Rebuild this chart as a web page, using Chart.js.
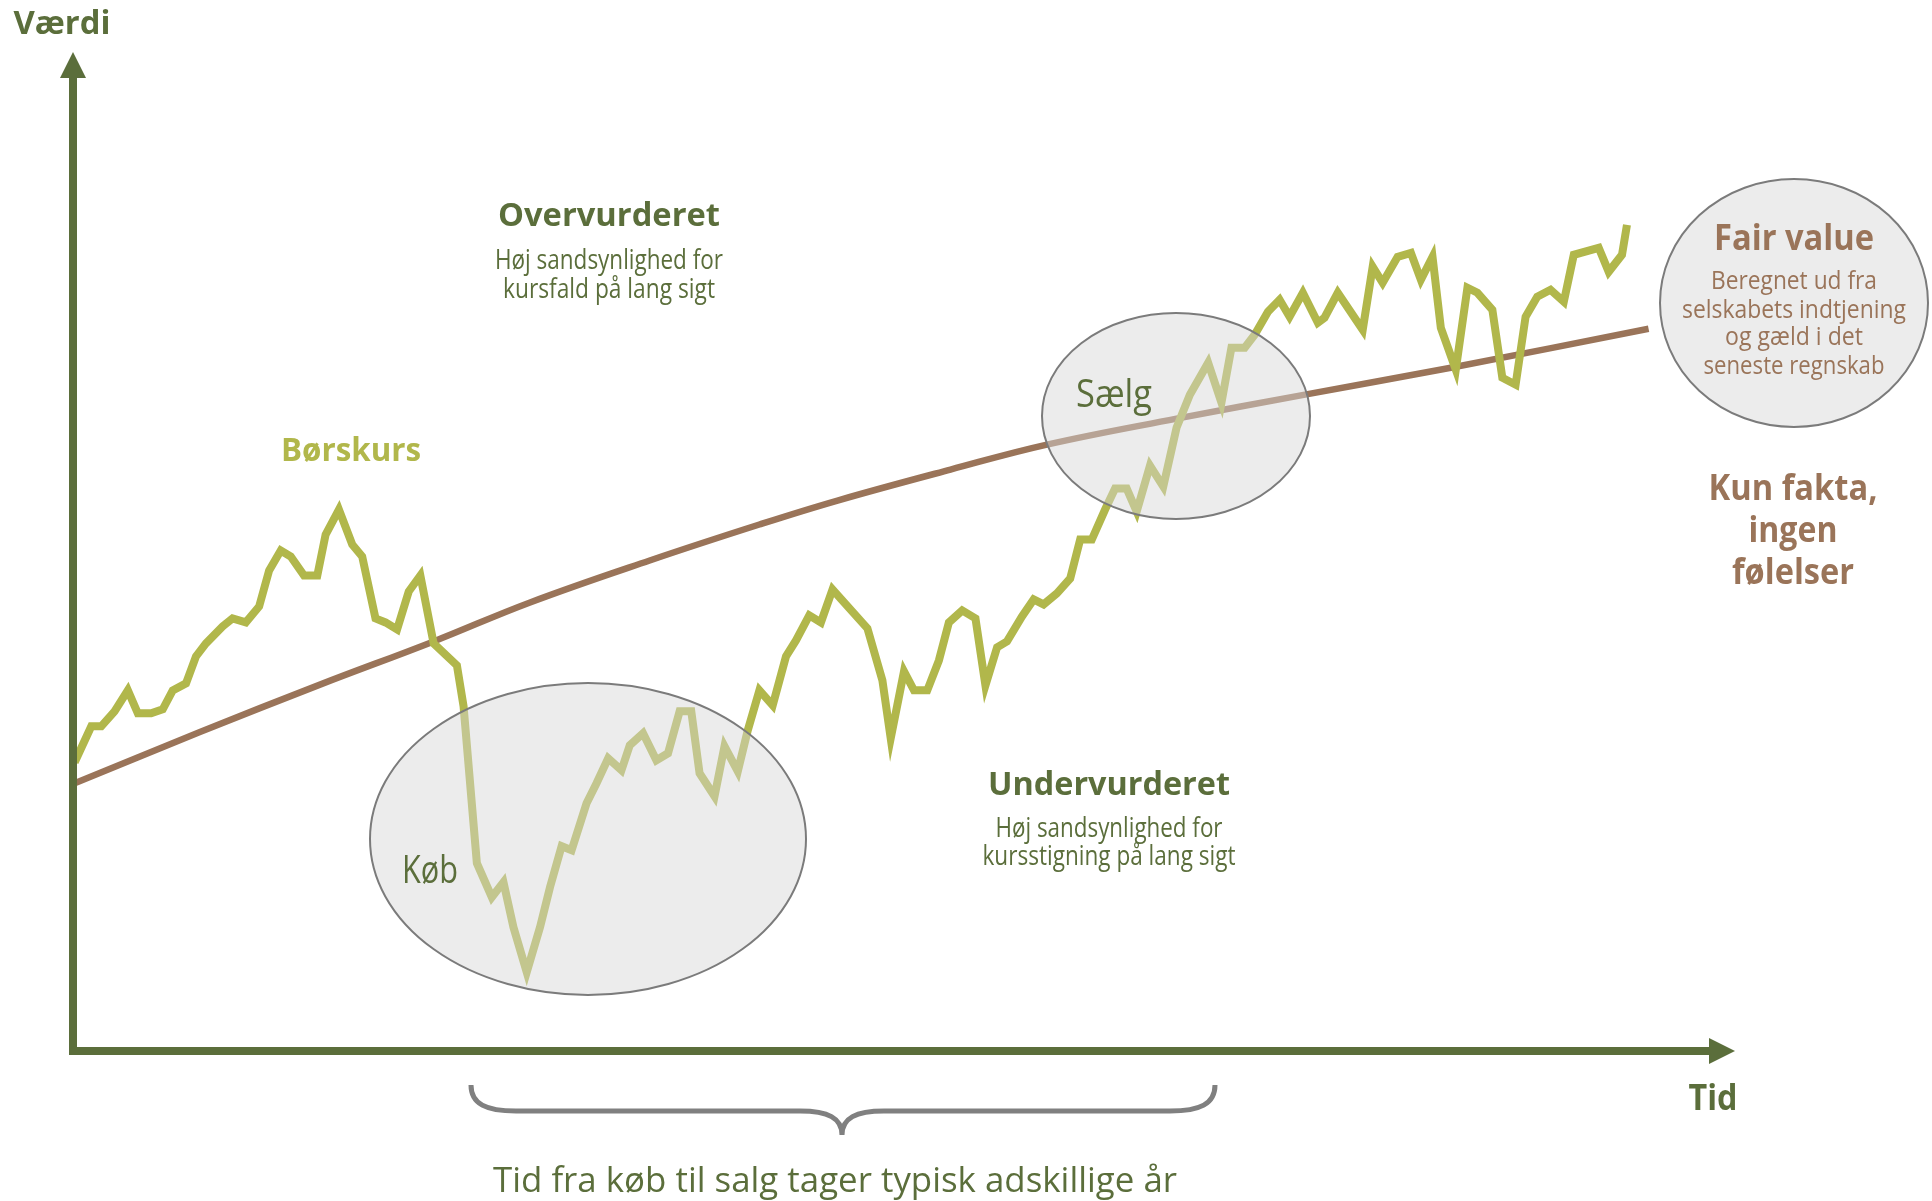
<!DOCTYPE html>
<html>
<head>
<meta charset="utf-8">
<script src="https://cdn.jsdelivr.net/npm/chart.js@4/dist/chart.umd.min.js"></script>
<style>
  html, body { margin: 0; padding: 0; background: #fff; }
  #wrap { width: 1932px; height: 1201px; }
</style>
</head>
<body>
<div id="wrap"><canvas id="myCanvas" width="1932" height="1201"></canvas></div>
<script>
// Børskurs (stock price), time 0-100, value 0-100
let kursTid = [0.1, 1.1, 1.7, 2.5, 3.3, 3.9, 4.7, 5.4, 6.0, 6.8, 7.4, 8.0, 9.0, 9.6, 10.4, 11.2, 11.8, 12.5, 13.1, 13.9,
  14.7, 15.2, 16.0, 16.8, 17.4, 18.2, 18.8, 19.5, 20.2, 20.9, 21.7, 23.1, 23.5, 24.3, 25.2, 25.9, 26.5, 27.3, 28.1, 28.7,
  29.4, 30.0, 30.9, 31.5, 32.2, 33.0, 33.5, 34.3, 35.1, 35.8, 36.5, 37.2, 37.7, 38.6, 39.2, 40.0, 40.6, 41.3, 42.1, 42.9,
  43.5, 44.3, 45.0, 45.7, 47.8, 48.7, 49.2, 50.0, 50.6, 51.4, 52.1, 52.7, 53.5, 54.3, 54.9, 55.6, 56.2, 57.1, 57.8, 58.4,
  59.2, 60.0, 60.6, 61.3, 62.1, 62.7, 63.4, 64.0, 64.8, 65.6, 66.4, 67.2, 68.3, 69.1, 69.7, 70.5, 71.1, 71.9, 72.6, 73.2,
  74.0, 74.9, 75.3, 76.1, 77.6, 78.2, 78.8, 79.7, 80.5, 81.1, 81.8, 82.3, 83.2, 83.9, 84.5, 85.4, 86.0, 86.8, 87.4, 88.1,
  88.9, 89.7, 90.3, 91.8, 92.4, 93.2, 93.5]
let kurs = [28.9, 32.5, 32.5, 34.0, 36.1, 33.8, 33.8, 34.2, 36.1, 36.8, 39.5, 40.8, 42.5, 43.3, 42.9, 44.5, 48.1, 50.1, 49.5, 47.6,
  47.6, 51.7, 54.2, 50.7, 49.5, 43.3, 42.9, 42.2, 46.0, 47.6, 40.8, 38.6, 34.5, 18.8, 15.4, 16.9, 12.4, 7.9, 12.4, 16.4,
  20.5, 20.1, 24.8, 26.8, 29.3, 28.1, 30.6, 31.8, 29.1, 29.8, 34.0, 34.0, 27.8, 25.5, 30.5, 28.0, 32.1, 36.1, 34.6, 39.5,
  41.1, 43.6, 42.9, 46.2, 42.3, 37.1, 31.3, 38.0, 36.1, 36.1, 39.1, 42.9, 44.1, 43.3, 36.6, 40.4, 41.0, 43.5, 45.2, 44.7,
  45.8, 47.3, 51.2, 51.2, 54.2, 56.3, 56.3, 54.0, 58.6, 56.5, 62.4, 65.7, 68.9, 64.9, 70.4, 70.4, 71.7, 74.0, 75.2, 73.5,
  75.9, 72.9, 73.4, 75.9, 72.2, 78.5, 76.9, 79.5, 79.9, 77.2, 79.5, 72.4, 68.2, 76.4, 75.9, 74.2, 67.4, 66.7, 73.5, 75.5,
  76.2, 75.0, 79.7, 80.4, 78.0, 79.7, 82.7]

// Fair value curve
let fairTid = [0.1, 7.6, 14.9, 21.7, 27.5, 34.7, 41.3, 46.0, 52.8, 58.6, 66.4, 73.8, 82.9, 94.8]
let fairValue = [26.8, 31.9, 36.7, 41.0, 44.9, 49.1, 52.7, 55.1, 58.2, 60.7, 63.3, 65.6, 68.4, 72.3]

let darkGreen = "#5b6e3b"
let lineGreen = "#b1b74b"
let brown = "#9a7459"
let font = "'Open Sans', 'Noto Sans', sans-serif"

function fitText(ctx, text, x, y, width, size, weight, color) {
    ctx.save()
    ctx.font = weight + " " + size + "px " + font
    ctx.fillStyle = color
    ctx.textAlign = "center"
    ctx.textBaseline = "middle"
    let w = ctx.measureText(text).width
    ctx.translate(x, y + 2)
    ctx.scale(width / w, 1)
    ctx.fillText(text, 0, 0)
    ctx.restore()
}

function ellipse(ctx, cx, cy, rx, ry, fill) {
    ctx.beginPath()
    ctx.ellipse(cx, cy, rx, ry, 0, 0, Math.PI * 2)
    ctx.fillStyle = fill
    ctx.fill()
    ctx.lineWidth = 2
    ctx.strokeStyle = "#7b7b7b"
    ctx.stroke()
}

const overlay = {
    id: "overlay",
    beforeDraw(chart) {
        let ctx = chart.ctx
        ctx.save()
        ctx.fillStyle = "#fff"
        ctx.fillRect(0, 0, chart.width, chart.height)
        ctx.restore()
    },
    afterDraw(chart) {
        let ctx = chart.ctx
        ctx.save()

        // buy / sell zones on top of the lines
        ellipse(ctx, 588, 839, 218, 156, "rgba(215,215,215,0.48)")
        ellipse(ctx, 1176, 416, 134, 103, "rgba(215,215,215,0.48)")
        ellipse(ctx, 1794, 303, 134, 124, "#ececec")

        // axes with arrows
        ctx.strokeStyle = darkGreen
        ctx.fillStyle = darkGreen
        ctx.lineWidth = 8
        ctx.beginPath()
        ctx.moveTo(73, 1055)
        ctx.lineTo(73, 74)
        ctx.moveTo(69, 1051)
        ctx.lineTo(1712, 1051)
        ctx.stroke()
        ctx.beginPath()
        ctx.moveTo(73, 52)
        ctx.lineTo(60, 78)
        ctx.lineTo(86, 78)
        ctx.closePath()
        ctx.fill()
        ctx.beginPath()
        ctx.moveTo(1735, 1051)
        ctx.lineTo(1709, 1038)
        ctx.lineTo(1709, 1064)
        ctx.closePath()
        ctx.fill()

        // brace under the x axis
        ctx.strokeStyle = "#808080"
        ctx.lineWidth = 5
        ctx.beginPath()
        ctx.moveTo(471, 1085)
        ctx.bezierCurveTo(471, 1104, 486, 1111, 516, 1111)
        ctx.lineTo(800, 1111)
        ctx.bezierCurveTo(828, 1111, 842, 1118, 842, 1135)
        ctx.bezierCurveTo(842, 1118, 856, 1111, 884, 1111)
        ctx.lineTo(1170, 1111)
        ctx.bezierCurveTo(1200, 1111, 1215, 1104, 1215, 1085)
        ctx.stroke()
        ctx.restore()

        // texts
        fitText(ctx, "Værdi", 62, 23, 97, 33, "bold", darkGreen)
        fitText(ctx, "Tid", 1713, 1098, 49, 35, "bold", darkGreen)
        fitText(ctx, "Overvurderet", 609, 215, 222, 33, "bold", darkGreen)
        fitText(ctx, "Høj sandsynlighed for", 609, 259, 228, 27, "normal", darkGreen)
        fitText(ctx, "kursfald på lang sigt", 609, 288, 212, 27, "normal", darkGreen)
        fitText(ctx, "Børskurs", 351, 450, 140, 33, "bold", lineGreen)
        fitText(ctx, "Køb", 430, 870, 56, 38, "normal", darkGreen)
        fitText(ctx, "Sælg", 1114, 394, 76, 38, "normal", darkGreen)
        fitText(ctx, "Undervurderet", 1109, 784, 242, 33, "bold", darkGreen)
        fitText(ctx, "Høj sandsynlighed for", 1109, 827, 227, 27, "normal", darkGreen)
        fitText(ctx, "kursstigning på lang sigt", 1109, 855, 253, 27, "normal", darkGreen)
        fitText(ctx, "Fair value", 1794, 238, 160, 35, "bold", brown)
        fitText(ctx, "Beregnet ud fra", 1794, 280, 166, 25, "normal", brown)
        fitText(ctx, "selskabets indtjening", 1794, 309, 224, 25, "normal", brown)
        fitText(ctx, "og gæld i det", 1794, 336, 138, 25, "normal", brown)
        fitText(ctx, "seneste regnskab", 1794, 365, 181, 25, "normal", brown)
        fitText(ctx, "Kun fakta,", 1793, 488, 169, 36, "bold", brown)
        fitText(ctx, "ingen", 1793, 530, 89, 36, "bold", brown)
        fitText(ctx, "følelser", 1793, 572, 122, 36, "bold", brown)
        fitText(ctx, "Tid fra køb til salg tager typisk adskillige år", 835, 1180, 684, 35, "normal", darkGreen)
    }
}

new Chart("myCanvas", {
    type: "line",
    data: {
        datasets: [
            {
                label: "Børskurs",
                data: kursTid.map((t, i) => ({ x: t, y: kurs[i] })),
                borderColor: lineGreen,
                borderWidth: 8,
                pointRadius: 0,
                tension: 0,
                fill: false,
            },
            {
                label: "Fair value",
                data: fairTid.map((t, i) => ({ x: t, y: fairValue[i] })),
                borderColor: brown,
                borderWidth: 6.5,
                pointRadius: 0,
                tension: 0.4,
                fill: false,
            },
        ]
    },
    options: {
        responsive: false,
        animation: false,
        layout: { padding: { left: 73, right: 197, top: 52, bottom: 150 } },
        scales: {
            x: { type: "linear", min: 0, max: 100, display: false },
            y: { min: 0, max: 100, display: false }
        },
        plugins: {
            legend: { display: false },
            tooltip: { enabled: false }
        }
    },
    plugins: [overlay]
})
</script>
</body>
</html>
